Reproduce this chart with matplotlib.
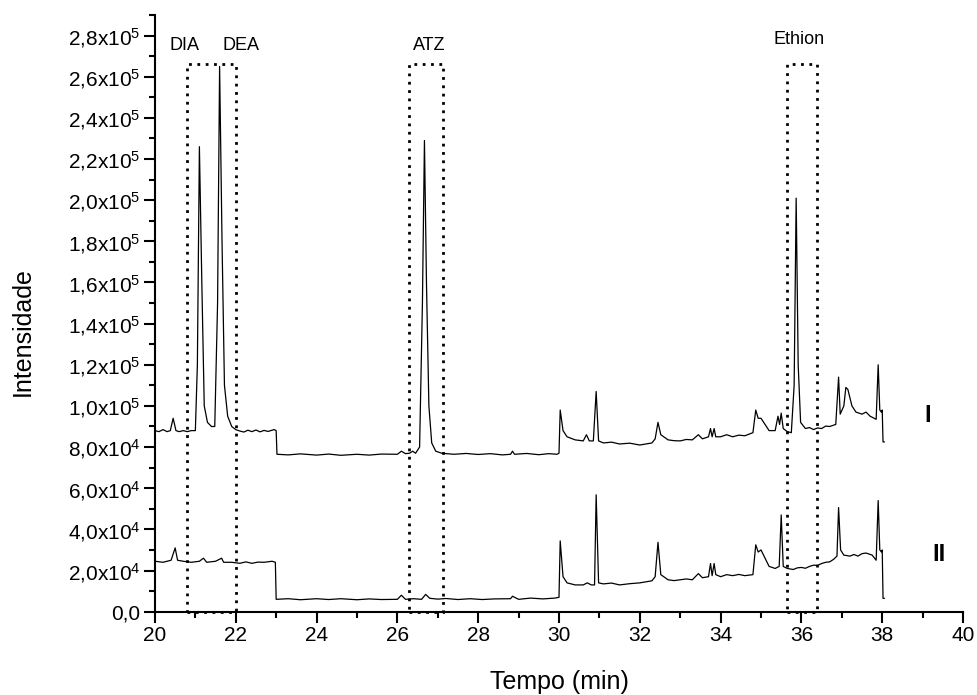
import matplotlib
matplotlib.use("Agg")
import matplotlib.pyplot as plt
from matplotlib.ticker import MultipleLocator
from matplotlib.patches import Rectangle

plt.rcParams['font.family'] = ['Liberation Sans', 'DejaVu Sans']
plt.rcParams['mathtext.fontset'] = 'custom'
plt.rcParams['mathtext.rm'] = 'Liberation Sans'
plt.rcParams['mathtext.it'] = 'Liberation Sans'

# ---- data (intensity values in units of 1e3) ----
t_I = [20.0, 20.1, 20.2, 20.3, 20.38, 20.45, 20.52, 20.6, 20.7, 20.8, 20.9, 21.0,
       21.05, 21.1, 21.16, 21.22, 21.3, 21.4, 21.48, 21.55, 21.6, 21.66, 21.72, 21.8,
       21.9, 22.0, 22.1, 22.2, 22.3, 22.4, 22.5, 22.6, 22.7, 22.8, 22.95, 23.0, 23.02,
       23.3, 23.6, 24.0, 24.3, 24.6, 25.0, 25.3, 25.6, 26.0, 26.1, 26.2, 26.3, 26.38,
       26.45, 26.55, 26.62, 26.67, 26.72, 26.78, 26.85, 26.95, 27.1, 27.4, 27.7, 28.0,
       28.3, 28.6, 28.8, 28.85, 28.9, 29.2, 29.5, 29.75, 29.95, 30.0,
       30.03, 30.1, 30.2, 30.4, 30.6, 30.68, 30.75, 30.85, 30.92, 30.98, 31.1, 31.3,
       31.5, 31.75, 32.0, 32.3, 32.38, 32.45, 32.52, 32.7, 32.85, 33.0, 33.15, 33.3,
       33.45, 33.55, 33.7, 33.75, 33.79, 33.84, 33.88, 34.0, 34.15, 34.3, 34.45, 34.6,
       34.8, 34.87, 34.93, 35.0, 35.1, 35.2, 35.35, 35.42, 35.46, 35.5, 35.55, 35.65,
       35.75, 35.82, 35.87, 35.92, 35.98, 36.1, 36.2, 36.3, 36.4, 36.5, 36.6, 36.7,
       36.85, 36.92, 36.96, 37.05, 37.1, 37.15, 37.25, 37.35, 37.5, 37.6, 37.7, 37.85,
       37.9, 37.94, 37.98, 38.0, 38.02, 38.05]
y_I = [88, 87.5, 88.5, 87.5, 88, 94, 88, 87.5, 88, 87.5, 88, 88,
       120, 226, 160, 100, 92, 90, 90, 150, 265, 180, 110, 95,
       90, 88.5, 87.8, 87.3, 88.2, 87.5, 88.3, 87.4, 88.1, 87.6, 88.5, 88, 76.5,
       76.2, 76.7, 76.1, 76.6, 76.0, 76.5, 76.1, 76.6, 76.5, 78, 76.8, 77, 78,
       77, 80, 150, 229, 160, 100, 82, 78, 77, 76.5, 76.9, 76.4,
       76.8, 76.2, 76.5, 78, 76.5, 76.9, 76.3, 76.8, 76.5, 77,
       98, 88, 85, 83.5, 83, 86, 83, 83, 107, 83, 82, 82.4,
       81.5, 81.9, 81, 82, 84, 92, 86, 83.5, 83.1, 83, 83.7, 83.5,
       86, 84, 85, 89, 85, 89, 85, 85, 86, 85, 85.8, 85.5,
       87, 98, 94, 94, 91, 88, 88, 95, 91, 96.5, 89, 87.5,
       87, 110, 201, 120, 92, 89, 89.5, 88.5, 89.3, 89, 90.2, 90,
       91, 114, 96, 100, 109, 108, 100, 97, 96, 97, 95, 93.5,
       120, 98, 97, 98, 82.5, 82.5]

t_II = [20.0, 20.2, 20.4, 20.5, 20.56, 20.7, 20.9, 21.1, 21.2, 21.28, 21.5, 21.65,
        21.7, 21.9, 22.1, 22.25, 22.4, 22.55, 22.7, 22.9, 22.98, 23.0, 23.3, 23.6, 24.0,
        24.3, 24.6, 25.0, 25.3, 25.6, 26.0, 26.1, 26.2, 26.4, 26.6, 26.7, 26.8, 27.0,
        27.2, 27.5, 27.8, 28.1, 28.4, 28.8, 28.85, 29.0, 29.3, 29.6,
        29.9, 30.0, 30.03, 30.1, 30.2, 30.4, 30.6, 30.7, 30.8, 30.88, 30.92, 30.98,
        31.1, 31.3, 31.5, 31.75, 32.0, 32.3, 32.38, 32.45, 32.52, 32.7, 32.85, 33.0,
        33.15, 33.3, 33.45, 33.55, 33.7, 33.75, 33.79, 33.84, 33.88, 34.0, 34.15, 34.3,
        34.45, 34.6, 34.8, 34.87, 34.93, 35.0, 35.1, 35.2, 35.35, 35.45, 35.5, 35.55,
        35.65, 35.8, 35.9, 36.0, 36.1, 36.2, 36.3, 36.4, 36.5, 36.6, 36.7, 36.8, 36.88,
        36.92, 36.97, 37.05, 37.2, 37.3, 37.4, 37.5, 37.6, 37.75, 37.85, 37.9,
        37.94, 37.98, 38.0, 38.02, 38.05]
y_II = [24.5, 24, 25, 31, 25, 24.5, 24, 24.5, 26, 24, 24.5, 26,
        24, 24, 23.5, 24.2, 23.5, 24.1, 24, 24.5, 24, 6, 6.3, 5.8, 6.3,
        5.9, 6.3, 5.8, 6.2, 5.9, 6, 8, 6, 6.3, 6, 8.4, 6.5, 6.1,
        6.4, 5.9, 6.3, 5.9, 6.2, 6.3, 7.5, 6, 6.6, 6.2,
        6.6, 7, 34.4, 17, 14, 13, 13, 14, 13, 13, 56.8, 14,
        13.5, 13.9, 13, 13.6, 14, 15, 17, 33.7, 18, 15.5, 15.1, 15.5,
        15.9, 15.5, 18.5, 16.5, 17, 23.4, 17.5, 23.4, 18, 17, 18, 17.5,
        18.1, 17.5, 18, 32.5, 29, 30, 26, 22, 21, 22, 47, 22,
        21, 20.5, 21.3, 21.5, 21.1, 22, 22.6, 22.5, 23.4, 24, 24.2, 25.5, 27,
        50.6, 30, 27.5, 27, 27.8, 27, 28.2, 28.5, 27.5, 25, 54,
        30, 29, 30, 6.5, 6.5]

box_names = ["DIA", "DEA", "ATZ", "Ethion"]
box_left = [20.8, 26.3, 35.65]
box_right = [22.0, 27.12, 36.38]
box_top = 266e3
label_x = [20.74, 22.13, 26.78, 35.94]
label_y = [275e3, 275e3, 275e3, 278e3]
trace_names = ["I", "II"]
trace_label_x = [39.13, 39.4]
trace_label_y = [95.5e3, 28e3]

ytick_vals = [0, 2e4, 4e4, 6e4, 8e4, 1e5, 1.2e5, 1.4e5, 1.6e5, 1.8e5, 2.0e5,
              2.2e5, 2.4e5, 2.6e5, 2.8e5]
ytick_labels = ["0,0", "2,0x10$^{4}$", "4,0x10$^{4}$", "6,0x10$^{4}$", "8,0x10$^{4}$",
                "1,0x10$^{5}$", "1,2x10$^{5}$", "1,4x10$^{5}$", "1,6x10$^{5}$",
                "1,8x10$^{5}$", "2,0x10$^{5}$", "2,2x10$^{5}$", "2,4x10$^{5}$",
                "2,6x10$^{5}$", "2,8x10$^{5}$"]

# ---- plot ----
fig = plt.figure(figsize=(9.77, 6.95), dpi=100)
ax = fig.add_axes([0.1586, 0.1199, 0.8271, 0.8585])

ax.plot(t_I, [v * 1e3 for v in y_I], color='black', lw=0.9)
ax.plot(t_II, [v * 1e3 for v in y_II], color='black', lw=0.9)

for l, r in zip(box_left, box_right):
    ax.add_patch(Rectangle((l, 0), r - l, box_top, fill=False, edgecolor='black',
                           linestyle=(0, (1, 2)), linewidth=2.0, clip_on=False))

for name, x, y in zip(box_names, label_x, label_y):
    ax.text(x, y, name, fontsize=13, ha='center', va='center')

for name, x, y in zip(trace_names, trace_label_x, trace_label_y):
    ax.text(x, y, name, fontsize=17, fontweight='bold', ha='center', va='center')

ax.set_xlim(20, 40)
ax.set_ylim(0, 2.9e5)
ax.set_yticks(ytick_vals)
ax.set_yticklabels(ytick_labels)
ax.xaxis.set_major_locator(MultipleLocator(2))
ax.xaxis.set_minor_locator(MultipleLocator(1))
ax.yaxis.set_minor_locator(MultipleLocator(1e4))

for s in ['top', 'right']:
    ax.spines[s].set_visible(False)
for s in ['left', 'bottom']:
    ax.spines[s].set_linewidth(1.5)

ax.tick_params(axis='both', which='major', direction='out', length=8, width=1.5,
               labelsize=15, pad=2.5)
ax.tick_params(axis='both', which='minor', direction='out', length=4, width=1.5)

ax.set_xlabel("Tempo (min)", fontsize=18)
ax.set_ylabel("Intensidade", fontsize=18)
ax.xaxis.set_label_coords(0.5, -0.097)
ax.yaxis.set_label_coords(-0.149, 0.47)

fig.savefig("out.png", dpi=100)
